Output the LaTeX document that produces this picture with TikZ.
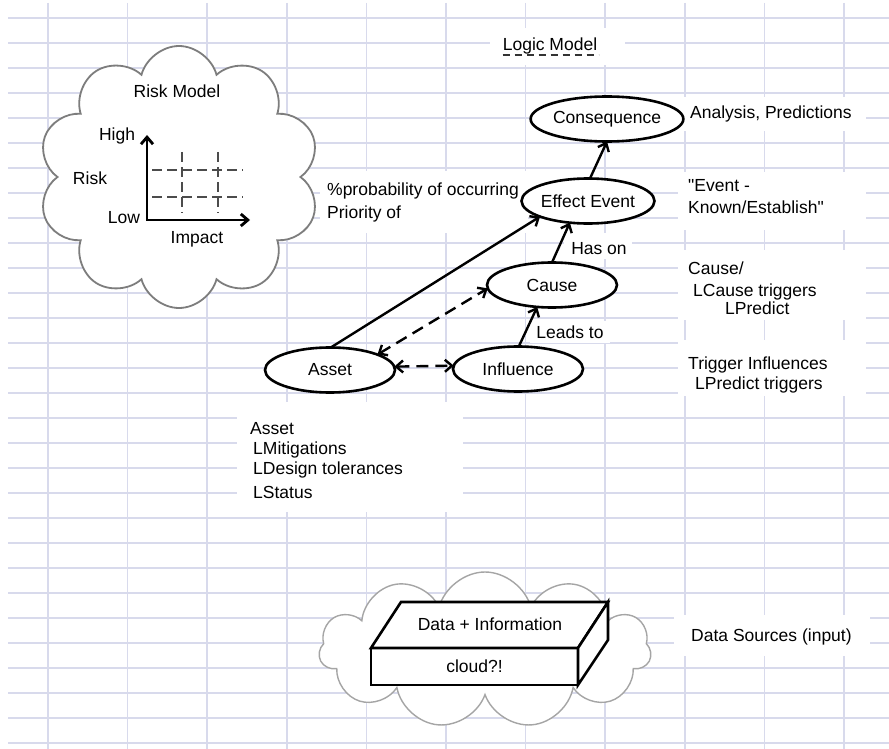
\documentclass[tikz,border=0pt]{standalone}
\usepackage{fontspec}
\setmainfont{Liberation Sans}
\usetikzlibrary{arrows.meta,shapes.geometric,shapes.symbols}
\definecolor{gridline}{RGB}{216,218,236}
\definecolor{pencil}{RGB}{125,125,125}
\definecolor{pencillight}{RGB}{165,165,165}
% straight double quote, set as the glyph itself
\newcommand\straightdq{\XeTeXglyph\XeTeXglyphindex "quotedbl"\relax}
\begin{document}
\begin{tikzpicture}[x=1pt,y=-1pt,
  font=\fontsize{17.5}{21}\selectfont,
  gridrule/.style={draw=gridline,line width=1.6pt},
  gap/.style={fill=white},
  bubble/.style={ellipse,draw,line width=2.6pt,fill=white,minimum width=130pt,
    minimum height=45pt,inner sep=0pt,outer sep=0pt},
  barb/.tip={Straight Barb[length=7pt,width=12pt]},
  link/.style={line width=2.4pt,-barb},
  duallink/.style={line width=2.4pt,dash pattern=on 12pt off 7pt,barb-barb},
  label/.style={inner sep=0pt,anchor=base},
  note/.style={inner sep=0pt,anchor=base west},
  puff/.style={cloud,draw=pencil,fill=white,inner sep=0pt,line width=1.8pt},
  axis/.style={line width=2.8pt,barb-barb},
  riskdash/.style={draw=black!70,line width=1.7pt,dash pattern=on 10pt off 5pt},
  boxline/.style={draw,line width=2.6pt,fill=white}
]
\useasboundingbox (0,0) rectangle (889,749);
\fill[white] (0,0) rectangle (889,749);

% ruled paper
\foreach \k in {0,...,29}
  \draw[gridrule] (8,18+25*\k) -- (889,18+25*\k);
\foreach \k in {0,...,10}
  \draw[gridrule] (48+79.6*\k,3) -- (48+79.6*\k,749);

% blank patches behind the written notes
\fill[gap] (490,28) rectangle (625,65);
\fill[gap] (320,171) rectangle (528,233);
\fill[gap] (564,233) rectangle (632,259);
\fill[gap] (530,321) rectangle (610,343);
\fill[gap] (678,97) rectangle (866,131);
\fill[gap] (678,172) rectangle (866,230);
\fill[gap] (678,250) rectangle (866,320);
\fill[gap] (678,340) rectangle (866,396);
\fill[gap] (237,402) rectangle (463,512);
\fill[gap] (674,615) rectangle (870,656);

% risk model cloud
\node[puff,cloud puffs=10,aspect=1.07,minimum width=282pt,minimum height=262pt]
  (riskcloud) at (179,177) {};
\node[label] (risktitle) at (177,98) {Risk Model};
\node[label] (high) at (117,141) {High};
\node[label] (risk) at (90,184) {Risk};
\node[label] (low) at (124,223) {Low};
\node[label] (impact) at (197,243) {Impact};
\coordinate (origin) at (147,220);
\coordinate (ytip) at (147,135);
\coordinate (xtip) at (250,220);
\draw[riskdash] (152,170) -- (243,170);
\draw[riskdash] (152,197) -- (243,197);
\draw[riskdash] (182,152) -- (182,213);
\draw[riskdash] (218,152) -- (218,213);
\draw[axis] (ytip) -- (origin) -- (xtip);

% logic model
\node[label] (logictitle) at (550,51) {Logic Model};
\draw[black!80,line width=1.2pt,dash pattern=on 7pt off 5pt]
  (logictitle.base west) ++(0,4) -- ++(96,0);

\node[bubble] (conseq) at (607,119) {Consequence};
\node[bubble] (effect) at (588,201) {Effect Event};
\node[bubble] (cause) at (552,285) {Cause};
\node[bubble] (asset) at (330,370) {Asset};
\node[bubble] (influence) at (518,369) {Influence};

\draw[link] (effect.85) -- (conseq.south);
\draw[link] (cause.north) -- (effect.-130);
\draw[link] (influence.88) -- (cause.-124);
\draw[link] (asset.88) -- (effect.-162);
\draw[duallink] (asset.18) -- (cause.-177);
\draw[duallink] (asset.3) -- (influence.177);

\node[label] (hason) at (599,254) {Has on};
\node[label] (leadsto) at (570,338) {Leads to};

\node[note] (prob) at (327,196) {\%probability of occurring};
\node[note] (prio) at (327,218) {Priority of};

\node[note] (analysis) at (690,119) {Analysis, Predictions};
\node[note] (event1) at (688,191) {\straightdq Event -};
\node[note] (event2) at (688,213) {Known/Establish\straightdq};
\node[note] (cause1) at (688,274) {Cause/};
\node[note] (cause2) at (693,296) {LCause triggers};
\node[note] (cause3) at (725,314) {LPredict};
\node[note] (trig1) at (688,369) {Trigger Influences};
\node[note] (trig2) at (695,389) {LPredict triggers};

\node[note] (asset1) at (250,434) {Asset};
\node[note] (asset2) at (253,454) {LMitigations};
\node[note] (asset3) at (253,474) {LDesign tolerances};
\node[note] (asset4) at (253,498) {LStatus};

% data sources
\node[puff,draw=pencillight,line width=1.4pt,cloud puffs=11,aspect=2.1,
  minimum width=332pt,minimum height=156pt] (datacloud) at (485,650) {};
\node[boxline,minimum width=207pt,minimum height=37pt,inner sep=0pt,outer sep=0pt]
  (front) at (474.5,666.5) {cloud?!};
\draw[boxline] (front.north west) -- ++(30,-46) -- ++(207,0)
  -- (front.north east) -- cycle;
\draw[boxline] (front.north east) -- ++(30,-46) -- ++(0,38)
  -- (front.south east) -- cycle;
\node[label] (datainfo) at (490,630) {Data + Information};
\node[note] (sources) at (691,641) {Data Sources (input)};
\end{tikzpicture}
\end{document}
